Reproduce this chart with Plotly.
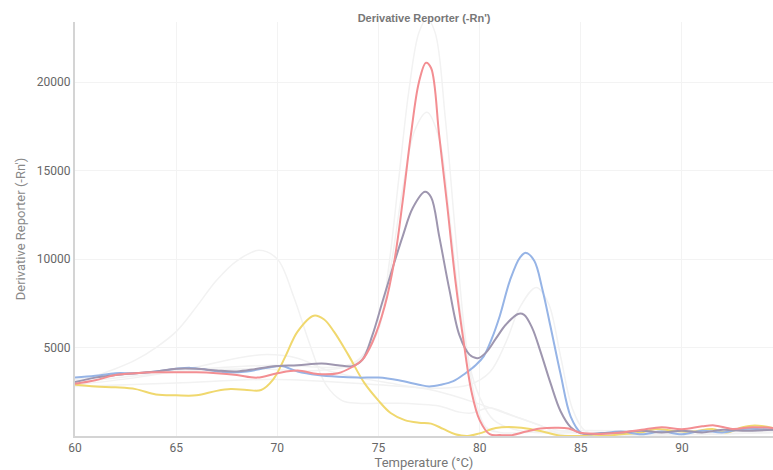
import plotly.graph_objects as go

# ---- data ----
red_t = [60, 61, 62, 63, 64, 65, 66, 67, 68, 69, 70, 71, 72, 73, 73.7, 74.2, 74.7, 75.3, 75.8, 76.2, 76.6, 77, 77.35, 77.6, 78, 78.4, 78.8, 79.2, 79.6, 80, 80.5, 81, 81.6, 82.3, 83, 83.8, 84.4, 85, 86, 87, 88, 89, 90, 91, 91.6, 92.5, 93.5, 94.5]
red_v = [2950, 3150, 3450, 3550, 3600, 3600, 3600, 3550, 3450, 3300, 3550, 3700, 3500, 3550, 3900, 4300, 5300, 7300, 10000, 13300, 17000, 20000, 21100, 20800, 17000, 13000, 8800, 5400, 2500, 900, 100, 50, 50, 250, 420, 460, 420, 180, 120, 200, 350, 500, 380, 550, 600, 400, 500, 450]

gray_t = [60, 61, 62, 63, 64, 65, 66, 67, 68, 69, 70, 71, 72.2, 73, 73.7, 74.2, 74.7, 75.2, 75.7, 76.2, 76.7, 77.3, 77.6, 78, 78.5, 79, 79.5, 79.9, 80.3, 80.8, 81.3, 81.9, 82.2, 82.6, 83, 83.5, 84, 84.5, 85, 86, 87, 88, 89, 90, 91, 92, 93, 94.5]
gray_v = [3050, 3300, 3450, 3550, 3650, 3800, 3800, 3700, 3650, 3800, 3950, 4000, 4100, 4000, 3950, 4300, 5700, 7600, 9500, 11300, 12900, 13800, 13500, 11300, 8300, 5700, 4600, 4400, 4700, 5500, 6300, 6900, 6850, 6100, 4800, 3000, 1400, 500, 150, 150, 200, 300, 200, 300, 200, 350, 300, 350]

blue_t = [60, 61, 62, 63, 64, 65, 65.7, 66.5, 67.5, 68.5, 69.5, 70.2, 71, 72, 73, 74, 75, 76, 77, 77.5, 78.1, 78.7, 79.3, 79.8, 80.2, 80.6, 81, 81.5, 82, 82.3, 82.7, 83.1, 83.5, 84, 84.5, 85, 85.5, 86, 87, 88, 89, 90, 91, 92, 93, 94.5]
blue_v = [3300, 3400, 3550, 3550, 3650, 3800, 3850, 3750, 3600, 3650, 3850, 3950, 3650, 3450, 3350, 3300, 3300, 3150, 2900, 2800, 2900, 3100, 3550, 4000, 4500, 5500, 6800, 8800, 10100, 10350, 9900, 8300, 6200, 3500, 1100, 200, 100, 150, 250, 100, 250, 100, 300, 200, 400, 350]

yellow_t = [60, 61, 62, 63, 64, 65, 66, 67, 67.7, 68.5, 69.2, 69.8, 70.4, 71, 71.8, 72.3, 72.8, 73.5, 74.3, 75, 75.6, 76.3, 77, 77.6, 78.2, 78.8, 79.4, 80, 80.8, 81.7, 82.5, 83.3, 84, 85, 86, 87, 88, 88.7, 89.5, 90.5, 91.5, 92.2, 93, 93.6, 94.5]
yellow_v = [2900, 2800, 2750, 2650, 2350, 2300, 2300, 2550, 2650, 2600, 2600, 3200, 4500, 5900, 6800, 6600, 5900, 4600, 3000, 2000, 1300, 900, 750, 700, 400, 100, 0, 150, 450, 500, 400, 200, 20, 0, 0, 100, 200, 400, 300, 250, 400, 200, 500, 600, 450]

faint1_t = [60, 61, 62, 63, 64, 65, 66, 67, 68, 69.1, 70, 70.8, 71.6, 72.4, 73.2, 74, 75, 76, 77, 78, 79, 79.6, 80.5, 81.3, 82, 83, 84, 85, 90, 94.5]
faint1_v = [3100, 3400, 3800, 4300, 5000, 5900, 7300, 8800, 9900, 10500, 10000, 7900, 5200, 2900, 2000, 1850, 1850, 1850, 1800, 1700, 1350, 1300, 1600, 1300, 1000, 600, 100, 0, 200, 300]

faint2_t = [60, 63, 66, 69, 72, 74, 75, 75.5, 76, 76.5, 77, 77.4, 77.8, 78.3, 78.8, 79.3, 79.8, 80.3, 81, 84, 90, 94.5]
faint2_v = [3000, 3400, 3700, 3800, 3700, 4200, 6000, 9500, 14500, 19500, 22800, 23600, 22800, 18000, 11500, 5500, 2000, 500, 200, 300, 300, 400]

faint3_t = [60, 65, 70, 73, 74, 75, 75.6, 76.2, 76.8, 77.4, 78, 78.5, 79, 79.5, 80, 80.7, 82, 86, 94.5]
faint3_v = [3200, 3700, 4000, 3900, 4300, 6200, 9500, 14000, 17300, 18300, 16800, 12500, 7500, 4000, 2200, 900, 300, 200, 300]

faint4_t = [60, 65, 70, 75, 78, 79.5, 80.5, 81.3, 82, 82.8, 83.4, 84, 84.6, 85.2, 86, 94.5]
faint4_v = [2800, 3000, 3200, 2900, 2700, 2900, 3600, 5300, 7300, 8400, 7500, 4500, 1500, 300, 100, 200]

faint5_t = [60, 63, 66, 68, 69.5, 71, 72.5, 74, 76, 78, 80, 82, 84, 94.5]
faint5_v = [2900, 3300, 3900, 4400, 4600, 4400, 3700, 3300, 2900, 2500, 1800, 1000, 300, 200]

x_ticks = [60, 65, 70, 75, 80, 85, 90]
y_ticks = [5000, 10000, 15000, 20000]
y_tick_text = ["5000", "10000", "15000", "20000"]

fig = go.Figure()

faint = [(faint1_t, faint1_v), (faint2_t, faint2_v), (faint3_t, faint3_v), (faint4_t, faint4_v), (faint5_t, faint5_v)]
for t, v in faint:
    fig.add_trace(go.Scatter(x=t, y=v, mode="lines", line=dict(color="#f2f2f2", width=1.5, shape="spline", smoothing=1),
                             hoverinfo="skip", showlegend=False))

main = [(yellow_t, yellow_v, "rgb(240,216,110)"),
        (blue_t, blue_v, "rgb(150,180,230)"),
        (gray_t, gray_v, "rgb(158,150,175)"),
        (red_t, red_v, "rgb(243,142,146)")]
for t, v, c in main:
    fig.add_trace(go.Scatter(x=t, y=v, mode="lines", line=dict(color=c, width=2, shape="spline", smoothing=1),
                             showlegend=False))

fig.update_layout(
    width=773, height=470,
    margin=dict(l=75, r=0, t=22, b=34),
    paper_bgcolor="white", plot_bgcolor="white",
    font=dict(family="Roboto, sans-serif", color="#666"),
    title=dict(text="<b>Derivative Reporter (-Rn')</b>", x=0.5486, xanchor="center", y=0.962, yanchor="middle",
               font=dict(family="Liberation Sans, Arial, sans-serif", size=11, color="#777")),
    xaxis=dict(range=[60, 94.5], tickvals=x_ticks, showgrid=True, gridcolor="#f3f3f3", gridwidth=1,
               showline=True, linecolor="#d4d4d4", linewidth=2, zeroline=False, ticks="",
               tickfont=dict(size=12, color="#666"),
               title=dict(text="Temperature (°C)", font=dict(size=13, color="#777"), standoff=4)),
    yaxis=dict(range=[0, 23400], tickvals=y_ticks, ticktext=y_tick_text, showgrid=True, gridcolor="#f3f3f3", gridwidth=1,
               showline=True, linecolor="#d4d4d4", linewidth=2, zeroline=False, ticks="",
               tickfont=dict(size=12, color="#666"),
               title=dict(text="Derivative Reporter (-Rn')", font=dict(size=13, color="#888"), standoff=8)),
)

fig.write_html("out.html")
